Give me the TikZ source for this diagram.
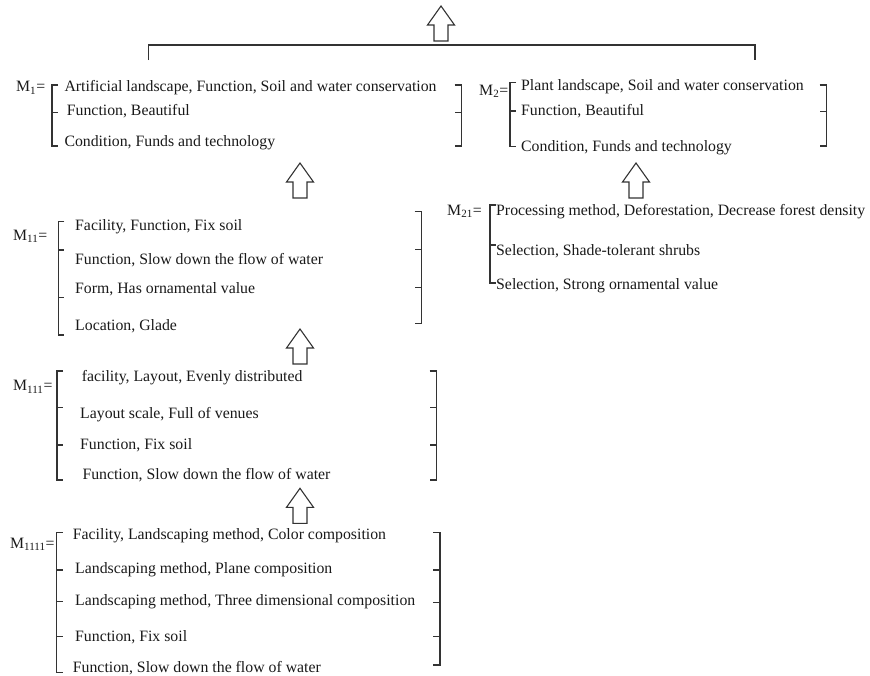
\documentclass[tikz,border=0pt]{standalone}
\usepackage{fontspec}
\setmainfont{Liberation Serif}
\newcommand\lbrk[4]{\draw[brk] (#1+6,#2) -- (#1,#2) -- (#1,#3) -- (#1+6,#3);
  \foreach \t in {#4} {\draw[brk] (#1,\t) -- (#1+6,\t);}}
\newcommand\rbrk[4]{\draw[brk] (#1-7,#2) -- (#1,#2) -- (#1,#3) -- (#1-7,#3);
  \foreach \t in {#4} {\draw[brk] (#1,\t) -- (#1-7,\t);}}
\begin{document}
\begin{tikzpicture}[x=1pt,y=-1pt,
  txt/.style={inner sep=0pt, anchor=base west, font=\fontsize{15.8}{18}\selectfont, text=black!90},
  brk/.style={line width=1.1pt, draw=black!80},
  blockarrow/.pic={\draw[line width=1.1pt, draw=black!80] (0,0) -- (13.5,19) -- (7,19) -- (7,35) -- (-7,35) -- (-7,19) -- (-13.5,19) -- cycle;}]
\useasboundingbox (0,0) rectangle (870,675);

% top arrow and joining line
\pic at (441,6) {blockarrow};
\coordinate (jl) at (148.3,60);
\coordinate (jr) at (755,60);
\draw[brk] (jl) -- (148.3,45) -- (755,45) -- (jr);

% M1
\node[txt] (m1) at (16,91.7) {M\textsubscript{1}=};
\lbrk{52}{85}{146}{112.7}
\node[txt] (m1a) at (64.3,91) {Artificial landscape, Function, Soil and water conservation};
\node[txt] (m1b) at (66.7,115) {Function, Beautiful};
\node[txt] (m1c) at (64.3,146.5) {Condition, Funds and technology};
\rbrk{461.5}{85}{146}{112.7}

% M2
\node[txt] (m2) at (479,95) {M\textsubscript{2}=};
\lbrk{510}{82.7}{146.7}{111}
\node[txt] (m2a) at (521,90.7) {Plant landscape, Soil and water conservation};
\node[txt] (m2b) at (521,115) {Function, Beautiful};
\node[txt] (m2c) at (521,151) {Condition, Funds and technology};
\rbrk{826.7}{85}{146}{111.7}

% arrows into M1 and M2
\pic at (300,163) {blockarrow};
\pic at (636,163) {blockarrow};

% M11
\node[txt] (m11) at (13,240) {M\textsubscript{11}=};
\lbrk{58.3}{221.7}{335}{250,297.3}
\node[txt] (m11a) at (75,230) {Facility, Function, Fix soil};
\node[txt] (m11b) at (75,264) {Function, Slow down the flow of water};
\node[txt] (m11c) at (75,293) {Form, Has ornamental value};
\node[txt] (m11d) at (75,330) {Location, Glade};
\rbrk{421.7}{211.7}{323.3}{249.3,287.7}

% M21
\node[txt] (m21) at (447,215) {M\textsubscript{21}=};
\lbrk{490}{205}{283}{245}
\node[txt] (m21a) at (496,215) {Processing method, Deforestation, Decrease forest density};
\node[txt] (m21b) at (496,255) {Selection, Shade-tolerant shrubs};
\node[txt] (m21c) at (496,289) {Selection, Strong ornamental value};

% arrow into M11
\pic at (300,329) {blockarrow};

% M111
\node[txt] (m111) at (13,390.7) {M\textsubscript{111}=};
\lbrk{57}{371}{480}{407.3,445}
\node[txt] (m111a) at (81.7,381.7) {facility, Layout, Evenly distributed};
\node[txt] (m111b) at (80,418) {Layout scale, Full of venues};
\node[txt] (m111c) at (80,449) {Function, Fix soil};
\node[txt] (m111d) at (82.3,479) {Function, Slow down the flow of water};
\rbrk{436.7}{371}{480}{407.3,445}

% arrow into M111
\pic at (300,488.3) {blockarrow};

% M1111
\node[txt] (m1111) at (10,548) {M\textsubscript{1111}=};
\lbrk{56.7}{532.7}{672.7}{570,601.7,636.7}
\node[txt] (m1111a) at (72.7,539) {Facility, Landscaping method, Color composition};
\node[txt] (m1111b) at (75,573) {Landscaping method, Plane composition};
\node[txt] (m1111c) at (75,605) {Landscaping method, Three dimensional composition};
\node[txt] (m1111d) at (75,641.7) {Function, Fix soil};
\node[txt] (m1111e) at (72.7,672.7) {Function, Slow down the flow of water};
\rbrk{440}{532.7}{665}{570,602.7,636.7}
\end{tikzpicture}
\end{document}
